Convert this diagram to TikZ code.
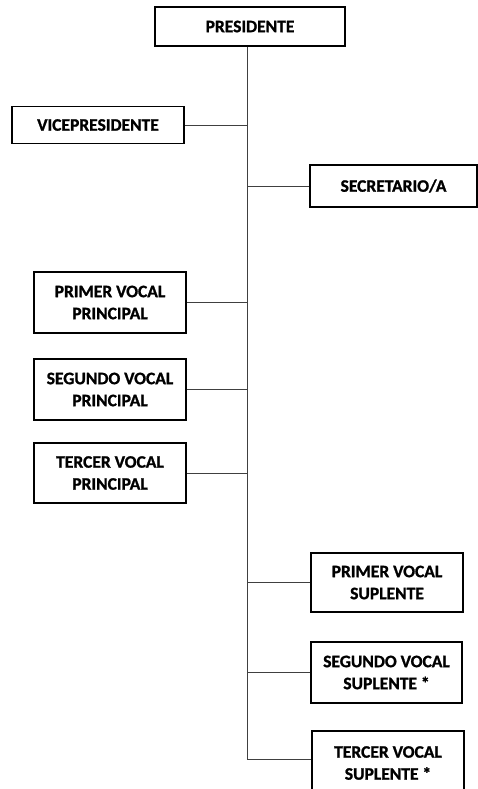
\documentclass[tikz,border=0pt]{standalone}
\usepackage{fontspec}
\setmainfont{Carlito}[BoldFeatures={FakeBold=1.2}]
\begin{document}
\begin{tikzpicture}[x=1pt,y=-1pt,
  box/.style={draw=black,line width=1.3pt,fill=white,align=center,inner sep=0pt,
    font=\fontsize{17.5}{22}\selectfont\bfseries},
  link/.style={draw=black!75,line width=0.8pt}]
\clip (0,0) rectangle (478,789);
\fill[white] (0,0) rectangle (478,789);
\coordinate (t) at (247,0);
\node[box,minimum width=190pt,minimum height=39pt] (pres) at (250,26.5) {PRESIDENTE};
\node[box,minimum width=172pt,minimum height=37pt] (vice) at (98,125) {VICEPRESIDENTE};
\node[box,minimum width=167pt,minimum height=42pt] (sec) at (393.5,186) {SECRETARIO/A};
\node[box,minimum width=152pt,minimum height=61pt] (pvp) at (110,302.5) {PRIMER VOCAL\\PRINCIPAL};
\node[box,minimum width=152pt,minimum height=61pt] (svp) at (110,389.5) {SEGUNDO VOCAL\\PRINCIPAL};
\node[box,minimum width=152pt,minimum height=60pt] (tvp) at (110,473) {TERCER VOCAL\\PRINCIPAL};
\node[box,minimum width=152pt,minimum height=59pt] (pvs) at (387,582.5) {PRIMER VOCAL\\SUPLENTE};
\node[box,minimum width=151pt,minimum height=61pt] (svs) at (386.5,672.5) {SEGUNDO VOCAL\\SUPLENTE *};
\node[box,minimum width=152pt,minimum height=64pt] (tvs) at (388,763) {TERCER VOCAL\\SUPLENTE *};
\coordinate (tend) at (247,759);
\draw[link] (pres.south -| t) -- (tend);
\foreach \n in {vice,pvp,svp,tvp} \draw[link] (\n.east) -- (\n.east -| t);
\foreach \n in {sec,pvs,svs} \draw[link] (\n.west) -- (\n.west -| t);
\draw[link] (tend) -- (tend -| tvs.west);
\end{tikzpicture}
\end{document}
